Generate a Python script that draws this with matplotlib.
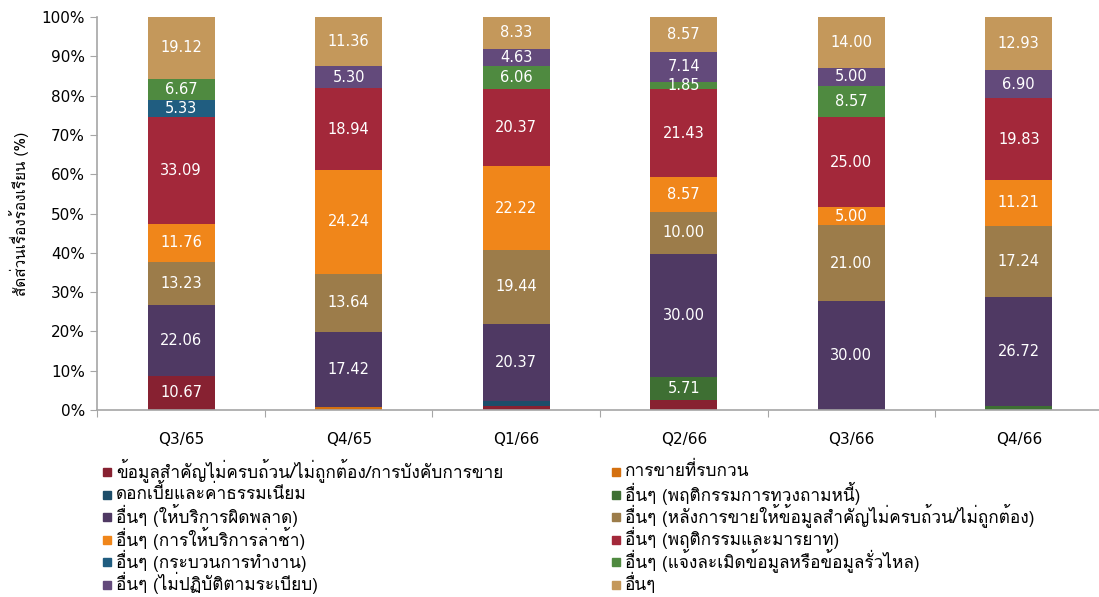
import matplotlib
matplotlib.use('Agg')
import matplotlib.pyplot as plt
import numpy as np

from matplotlib import font_manager
from matplotlib.patches import Rectangle
from fontTools.ttLib import TTFont


quarters = ['Q3/65', 'Q4/65', 'Q1/66', 'Q2/66', 'Q3/66', 'Q4/66']

series_names = [
  'ข้อมูลสำคัญไม่ครบถ้วน/ไม่ถูกต้อง/การบังคับการขาย',
  'การขายที่รบกวน',
  'ดอกเบี้ยและค่าธรรมเนียม',
  'อื่นๆ (พฤติกรรมการทวงถามหนี้)',
  'อื่นๆ (ให้บริการผิดพลาด)',
  'อื่นๆ (หลังการขายให้ข้อมูลสำคัญไม่ครบถ้วน/ไม่ถูกต้อง)',
  'อื่นๆ (การให้บริการล่าช้า)',
  'อื่นๆ (พฤติกรรมและมารยาท)',
  'อื่นๆ (กระบวนการทำงาน)',
  'อื่นๆ (แจ้งละเมิดข้อมูลหรือข้อมูลรั่วไหล)',
  'อื่นๆ (ไม่ปฏิบัติตามระเบียบ)',
  'อื่นๆ',
]

info_incomplete = [10.67, 0, 1.06, 2.38, 0, 0]
disturbing_sales = [0, 0.76, 0, 0, 0, 0]
interest_fees = [0, 0, 1.39, 0, 0, 0]
debt_collection = [0, 0, 0, 5.71, 0, 0.86]
service_error = [22.06, 17.42, 20.37, 30.00, 30.00, 26.72]
after_sales_info = [13.23, 13.64, 19.44, 10.00, 21.00, 17.24]
service_delay = [11.76, 24.24, 22.22, 8.57, 5.00, 11.21]
behaviour_manner = [33.09, 18.94, 20.37, 21.43, 25.00, 19.83]
work_process = [5.33, 0, 0, 0, 0, 0]
data_leak = [6.67, 0, 6.06, 1.85, 8.57, 0]
not_regulation = [0, 5.30, 4.63, 7.14, 5.00, 6.90]
others = [19.12, 11.36, 8.33, 8.57, 14.00, 12.93]

# (series index, quarter index) of thin segments that carry no label
unlabeled = [(0, 2), (0, 3), (1, 1), (2, 2), (3, 5)]

colors = [
  '#872131', '#D4700F', '#1D4D69', '#3E6F33', '#4F3963', '#9C7C4A',
  '#F0861A', '#A3283A', '#205D80', '#4F8A40', '#634A7B', '#C4985B',
]


def find_thai_font():
  for entry in font_manager.fontManager.ttflist:
    try:
      cmap = TTFont(entry.fname, fontNumber=0, lazy=True).getBestCmap()
    except Exception:
      continue
    if cmap and 0x0E01 in cmap and 0x0E49 in cmap:
      return entry.name
  return None


thai = find_thai_font()
families = ([thai] if thai else []) + ['DejaVu Sans']
plt.rcParams['font.family'] = families

values = np.array([
  info_incomplete, disturbing_sales, interest_fees, debt_collection,
  service_error, after_sales_info, service_delay, behaviour_manner,
  work_process, data_leak, not_regulation, others,
])
shares = values / values.sum(axis=0) * 100

W, H = 1099, 597
fig = plt.figure(figsize=(W / 100, H / 100), dpi=100)
ax = fig.add_axes([0.0887, 0.3132, 0.9145, 0.6583])

x = np.arange(len(quarters))
bottom = np.zeros(len(quarters))
for i, name in enumerate(series_names):
  ax.bar(x, shares[i], 0.4, bottom=bottom, color=colors[i], linewidth=0)
  for j in range(len(quarters)):
    if values[i, j] > 0 and (i, j) not in unlabeled:
      ax.text(
        x[j], bottom[j] + shares[i, j] / 2, f'{values[i, j]:.2f}',
        ha='center', va='center', color='white', fontsize=10.5,
        family=['DejaVu Sans'],
      )
  bottom += shares[i]

ax.set_xlim(-0.5, len(quarters) - 0.5)
ax.set_ylim(0, 100)
ax.set_yticks(np.arange(0, 101, 10))
ax.set_yticklabels([f'{v}%' for v in range(0, 101, 10)], fontsize=11, family=['DejaVu Sans'])
ax.set_xticks(np.arange(-0.5, len(quarters), 1))
ax.set_xticklabels([])
ax.set_xticks(x, minor=True)
ax.set_xticklabels(quarters, minor=True, fontsize=11, family=['DejaVu Sans'])
ax.tick_params(axis='x', which='major', length=5, color='#A6A6A6', direction='out')
ax.tick_params(axis='x', which='minor', length=0, pad=16)
ax.tick_params(axis='y', length=5, color='#A6A6A6', pad=4)

for side in ['top', 'right']:
  ax.spines[side].set_visible(False)
for side in ['left', 'bottom']:
  ax.spines[side].set_color('#A6A6A6')
  ax.spines[side].set_linewidth(1.2)

ax.set_ylabel('สัดส่วนเรื่องร้องเรียน (%)', fontsize=11, labelpad=9)

# legend: two columns, filled row by row
col_x = [103, 612]
row_y0, row_step = 472, 22.5
box = 8
for i, name in enumerate(series_names):
  px = col_x[i % 2]
  py = row_y0 + row_step * (i // 2)
  fig.patches.append(Rectangle(
    (px / W, 1 - (py + box / 2) / H), box / W, box / H,
    transform=fig.transFigure, color=colors[i], figure=fig,
  ))
  fig.text((px + box + 5) / W, 1 - (py - 1.5) / H, name, fontsize=12.4, va='center', ha='left')

fig.savefig('out.png', dpi=100)
